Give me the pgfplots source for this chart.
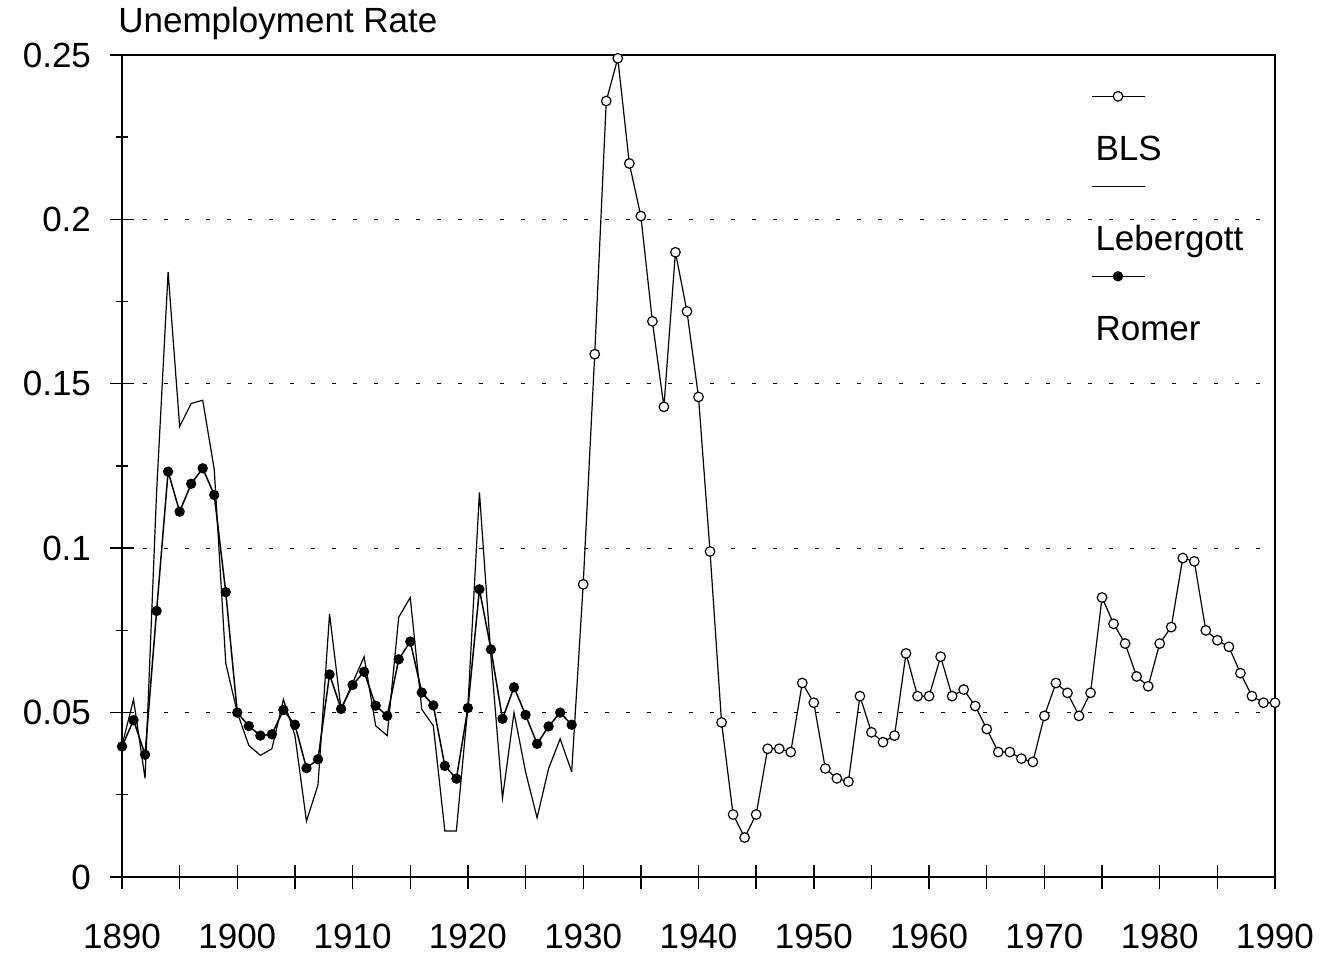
\documentclass[border=0pt]{standalone}
\usepackage{fontspec}
\setmainfont{Liberation Sans}
\usepackage{pgfplots}
\pgfplotsset{compat=1.18}
\newcommand\cf{\fontsize{17.5}{21}\selectfont}
\begin{document}
\begin{tikzpicture}
\begin{axis}[
  name=ax,
  scale only axis, width=576.5pt, height=411pt,
  xmin=1890, xmax=1990, ymin=0, ymax=0.25,
  axis line style={line width=0.8pt},
  tick style={line width=0.7pt, black},
  tick align=center, tick pos=left,
  xtick={1890,1895,...,1990},
  xticklabels={1890,,1900,,1910,,1920,,1930,,1940,,1950,,1960,,1970,,1980,,1990},
  ytick={0,0.05,0.1,0.15,0.2,0.25},
  yticklabels={0,0.05,0.1,0.15,0.2,0.25},
  minor y tick num=1,
  major tick length=12pt, minor tick length=6pt,
  ymajorgrids, major grid style={black, line width=0.6pt, dash pattern=on 2.2pt off 8.3pt},
  tick label style={font=\cf},
  xticklabel style={yshift=-14pt},
  yticklabel style={xshift=-6pt},
  clip=false,
  legend style={draw=none, fill=none, at={(rel axis cs:0.844,0.904)}, anchor=north west,
    font=\cf, row sep=28pt, column sep=0pt, inner sep=0pt,
    cells={anchor=base west},
    nodes={inner sep=0pt, text height=13pt, text depth=4pt}},
  legend image code/.code={\draw[#1, overlay, mark repeat=2, mark phase=2] plot coordinates {(-2pt,32pt) (11.25pt,32pt) (24.5pt,32pt)};},
]
% BLS
\addplot[black, line width=0.6pt, mark=*, mark size=2.4pt, mark options={fill=white, line width=0.6pt}, mark phase=2, mark repeat=1] coordinates {
(1929,0.032)(1930,0.089)(1931,0.159)(1932,0.236)(1933,0.249)(1934,0.217)(1935,0.201)(1936,0.169)(1937,0.143)(1938,0.190)(1939,0.172)
(1940,0.146)(1941,0.099)(1942,0.047)(1943,0.019)(1944,0.012)(1945,0.019)(1946,0.039)(1947,0.039)(1948,0.038)(1949,0.059)
(1950,0.053)(1951,0.033)(1952,0.030)(1953,0.029)(1954,0.055)(1955,0.044)(1956,0.041)(1957,0.043)(1958,0.068)(1959,0.055)
(1960,0.055)(1961,0.067)(1962,0.055)(1963,0.057)(1964,0.052)(1965,0.045)(1966,0.038)(1967,0.038)(1968,0.036)(1969,0.035)
(1970,0.049)(1971,0.059)(1972,0.056)(1973,0.049)(1974,0.056)(1975,0.085)(1976,0.077)(1977,0.071)(1978,0.061)(1979,0.058)
(1980,0.071)(1981,0.076)(1982,0.097)(1983,0.096)(1984,0.075)(1985,0.072)(1986,0.070)(1987,0.062)(1988,0.055)(1989,0.053)
(1990,0.053)};
\addlegendentry{BLS}
% Lebergott
\addplot[black, line width=0.6pt, mark=none] coordinates {
(1890,0.040)(1891,0.054)(1892,0.030)(1893,0.117)(1894,0.184)(1895,0.137)(1896,0.144)(1897,0.145)(1898,0.124)(1899,0.065)
(1900,0.050)(1901,0.040)(1902,0.037)(1903,0.039)(1904,0.054)(1905,0.043)(1906,0.017)(1907,0.028)(1908,0.080)(1909,0.051)
(1910,0.059)(1911,0.067)(1912,0.046)(1913,0.043)(1914,0.079)(1915,0.085)(1916,0.051)(1917,0.046)(1918,0.014)(1919,0.014)
(1920,0.052)(1921,0.117)(1922,0.067)(1923,0.024)(1924,0.050)(1925,0.032)(1926,0.018)(1927,0.033)(1928,0.042)(1929,0.032)};
\addlegendentry{Lebergott}
% Romer
\addplot[black, line width=0.75pt, mark=*, mark size=2.2pt, mark options={fill=black}] coordinates {
(1890,0.0397)(1891,0.0477)(1892,0.0372)(1893,0.0809)(1894,0.1233)(1895,0.1111)(1896,0.1196)(1897,0.1243)(1898,0.1162)(1899,0.0866)
(1900,0.0500)(1901,0.0459)(1902,0.0430)(1903,0.0434)(1904,0.0508)(1905,0.0463)(1906,0.0331)(1907,0.0358)(1908,0.0616)(1909,0.0511)
(1910,0.0584)(1911,0.0624)(1912,0.0521)(1913,0.0490)(1914,0.0662)(1915,0.0716)(1916,0.0561)(1917,0.0522)(1918,0.0338)(1919,0.0299)
(1920,0.0514)(1921,0.0875)(1922,0.0692)(1923,0.0481)(1924,0.0577)(1925,0.0493)(1926,0.0405)(1927,0.0458)(1928,0.0500)(1929,0.0463)};
\addlegendentry{Romer}
\end{axis}
\node[anchor=base west, font=\cf, inner sep=0pt] at ([xshift=-2pt,yshift=11pt]ax.north west) {Unemployment Rate};
\path ([xshift=-61pt,yshift=-42.5pt]ax.south west) rectangle ([xshift=29.5pt,yshift=27.5pt]ax.north east);
\end{tikzpicture}
\end{document}
